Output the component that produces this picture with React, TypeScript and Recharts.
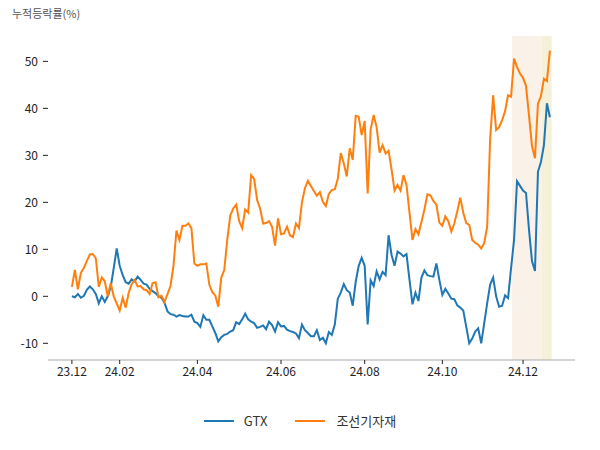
import React from "react";
import { LineChart, Line, XAxis, YAxis, ReferenceArea } from "recharts";

if (typeof document !== "undefined") document.body.style.margin = "0";

// cumulative return (%) per trading day
const gtx = [
  0.0, -0.2, 0.5, -0.3, 0.1, 1.4, 2.1, 1.5, 0.5, -1.5, 0.0, -1.2, 0.0, 2.0, 6.0, 10.2, 6.5, 4.5, 3.0, 2.7,
  3.6, 3.2, 4.2, 3.5, 2.7, 2.5, 1.6, 1.1, 0.7, 0.0, -0.3, -1.4, -3.2, -3.8, -3.9, -4.3, -4.0, -4.2, -4.3, -4.3,
  -3.9, -5.4, -5.7, -6.5, -4.0, -5.0, -5.0, -6.4, -7.8, -9.6, -8.7, -8.2, -8.0, -7.5, -7.2, -5.5, -5.9, -4.9, -3.7, -4.9,
  -5.4, -5.7, -6.7, -6.5, -6.2, -7.0, -5.4, -6.1, -7.5, -5.5, -6.4, -6.3, -7.1, -7.4, -7.6, -7.9, -8.9, -6.0, -7.2, -7.8,
  -8.5, -8.5, -7.2, -9.3, -8.8, -10.0, -7.6, -8.2, -6.0, -0.5, 0.8, 2.6, 1.3, 0.8, -2.0, 3.1, 6.5, 8.2, 6.5, -6.0,
  3.4, 2.2, 5.3, 3.6, 5.2, 4.5, 13.0, 8.8, 6.5, 9.5, 9.1, 8.5, 9.0, 3.5, -1.7, 0.8, -1.0, 4.0, 5.5, 4.5,
  4.3, 4.2, 7.0, 3.5, 0.3, 1.6, 0.6, -0.5, -0.6, -1.9, -2.4, -3.0, -6.5, -10.0, -9.0, -7.5, -6.8, -10.0, -5.8, -1.5,
  2.5, 4.0, 0.0, -2.2, -2.0, 0.2, -0.4, 6.0, 12.0, 24.5, 23.5, 22.5, 22.0, 14.2, 7.5, 5.4, 26.5, 28.6, 32.2, 41.1,
  38.1,
];

const shipParts = [
  2.0, 5.6, 1.5, 5.0, 6.0, 7.5, 8.9, 9.0, 8.1, 2.0, 4.0, 3.2, 0.0, 2.8, 0.0, -1.5, -3.0, -0.3, -2.4, 0.7,
  2.6, 3.5, 2.1, 2.2, 1.5, 1.3, 0.5, 2.8, 3.0, -0.2, 0.1, -1.2, 0.5, 2.2, 6.5, 14.0, 12.0, 15.0, 15.0, 15.5,
  14.5, 7.0, 6.5, 6.8, 6.8, 7.0, 2.5, 0.9, 0.2, -2.2, 4.0, 5.6, 12.0, 17.2, 18.7, 19.5, 16.0, 14.5, 18.5, 17.8,
  25.8, 25.0, 20.5, 18.7, 15.5, 15.6, 16.0, 14.8, 10.8, 16.6, 13.2, 13.4, 14.8, 13.0, 12.6, 15.5, 14.5, 20.0, 23.0, 24.6,
  23.5, 22.4, 21.4, 22.2, 20.1, 19.2, 21.8, 22.6, 22.8, 25.0, 30.5, 28.3, 25.5, 31.5, 29.0, 38.4, 38.2, 34.3, 37.3, 21.9,
  35.5, 38.6, 36.0, 30.6, 32.2, 30.4, 31.0, 27.0, 22.5, 23.7, 22.5, 25.8, 23.7, 17.8, 12.0, 14.3, 13.2, 15.8, 18.5, 21.7,
  21.5, 20.3, 19.5, 15.7, 15.0, 17.0, 16.0, 13.8, 15.5, 18.1, 21.0, 17.8, 15.6, 15.2, 12.0, 11.4, 11.0, 10.2, 11.3, 14.8,
  33.5, 42.8, 35.4, 36.0, 37.5, 39.4, 42.8, 42.5, 50.6, 48.8, 47.4, 46.5, 44.8, 38.5, 32.0, 29.4, 41.0, 42.6, 46.3, 45.8,
  52.3,
];

const xTicks = [0, 16, 42, 70, 98, 124, 151];
const xTickLabels = ["23.12", "24.02", "24.04", "24.06", "24.08", "24.10", "24.12"];
const yTicks = [-10, 0, 10, 20, 30, 40, 50];

// highlighted periods (trading day index)
const band1 = [147.3, 157.3];
const band2 = [157.3, 160.6];

const data = gtx.map((v, i) => ({ i, gtx: v, ship: shipParts[i] }));

const font = "'Noto Sans CJK KR', 'Noto Sans', sans-serif";

export default function App() {
  return (
    <div style={{ position: "relative", width: 600, height: 450, fontFamily: font }}>
      <div style={{ position: "absolute", left: 12, top: 5, fontSize: 11, color: "#555" }}>
        누적등락률(%)
      </div>
      <LineChart
        width={600}
        height={450}
        data={data}
        margin={{ top: 36, right: 25, left: 8, bottom: 60 }}
      >
        <ReferenceArea x1={band1[0]} x2={band1[1]} fill="#faf1e8" fillOpacity={1} stroke="none" />
        <ReferenceArea x1={band2[0]} x2={band2[1]} fill="#f5f1d9" fillOpacity={1} stroke="none" />
        <XAxis
          type="number"
          dataKey="i"
          domain={[-8, 168.4]}
          ticks={xTicks}
          interval={0}
          allowDataOverflow
          tickFormatter={(v: number) => xTickLabels[xTicks.indexOf(v)]}
          tick={{ fontSize: 12, fill: "#222", fontFamily: font }}
          tickSize={4}
          tickMargin={3}
          tickLine={{ stroke: "#222" }}
          axisLine={{ stroke: "#aaa" }}
          height={30}
        />
        <YAxis
          type="number"
          domain={[-13.55, 55.4]}
          ticks={yTicks}
          interval={0}
          allowDataOverflow
          tick={{ fontSize: 12, fill: "#222", fontFamily: font }}
          tickSize={5}
          tickMargin={5}
          tickLine={{ stroke: "#222" }}
          axisLine={false}
          width={40}
        />
        <Line
          type="linear"
          dataKey="gtx"
          stroke="#1f77b4"
          strokeWidth={2}
          dot={false}
          isAnimationActive={false}
        />
        <Line
          type="linear"
          dataKey="ship"
          stroke="#ff7f0e"
          strokeWidth={2}
          dot={false}
          isAnimationActive={false}
        />
      </LineChart>
      <div
        style={{
          position: "absolute",
          top: 411,
          left: 0,
          width: 600,
          display: "flex",
          justifyContent: "center",
          alignItems: "center",
          fontSize: 13,
          color: "#333",
        }}
      >
        <span style={{ display: "inline-block", width: 30, height: 2, background: "#1f77b4", marginRight: 10 }} />
        <span style={{ marginRight: 28 }}>GTX</span>
        <span style={{ display: "inline-block", width: 30, height: 2, background: "#ff7f0e", marginRight: 11 }} />
        <span>조선기자재</span>
      </div>
    </div>
  );
}
